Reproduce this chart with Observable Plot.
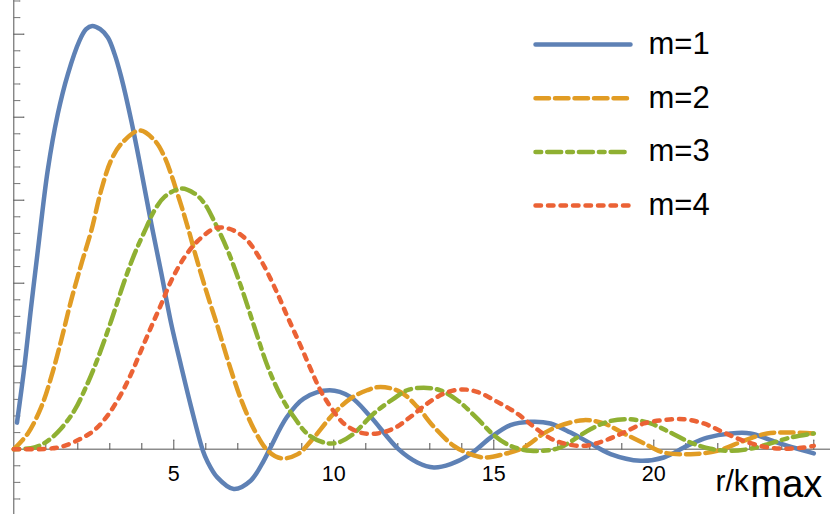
<!DOCTYPE html>
<html>
<head>
<meta charset="utf-8">
<script src="https://cdn.jsdelivr.net/npm/d3@7"></script>
<script src="https://cdn.jsdelivr.net/npm/@observablehq/plot@0.6"></script>
<style>
  html, body { margin: 0; padding: 0; background: #fff; }
  #chart { width: 830px; height: 514px; }
</style>
</head>
<body>
<div id="chart"></div>
<script>
// ---- data ----
const m1R = [0.1,0.33,0.54,0.75,1.06,1.375,1.69,2.05,2.26,2.45,2.70,2.94,3.15,3.36,3.67,3.98,4.30,4.61,4.92,5.23,5.54,5.91,6.04,6.36,6.875,7.40,7.81,8.02,8.54,9.06,9.87,10.52,11.15,12.02,12.61,13.125,13.65,14.27,14.90,15.52,16.15,16.77,17.40,18.02,18.65,19.58,20.31,21.04,21.67,22.40,23.02,23.86,25.0];
const m1V = [0.032,0.099,0.171,0.239,0.336,0.404,0.452,0.492,0.506,0.510,0.506,0.496,0.476,0.448,0.396,0.336,0.271,0.212,0.151,0.100,0.051,-0.002,-0.014,-0.034,-0.048,-0.038,-0.014,0.002,0.039,0.061,0.071,0.063,0.039,0.000,-0.016,-0.022,-0.018,-0.006,0.014,0.029,0.033,0.031,0.020,0.007,-0.006,-0.014,-0.010,0.004,0.014,0.019,0.019,0.008,-0.005];

const m2R = [0,0.44,0.86,1.17,1.48,1.79,2.11,2.42,2.73,3.04,3.36,3.93,4.40,4.71,5.18,5.44,5.70,6.01,6.375,6.69,7.11,7.52,7.94,8.35,8.875,9.29,10.0,10.52,11.04,11.46,12.08,12.61,13.125,13.75,14.27,14.69,15.31,15.94,16.56,16.98,17.81,18.44,19.06,19.69,20.31,21.15,21.98,22.81,23.54,24.27,25.0];
const m2V = [0,0.019,0.051,0.087,0.131,0.179,0.223,0.263,0.312,0.348,0.368,0.384,0.372,0.352,0.300,0.267,0.231,0.191,0.147,0.107,0.059,0.023,-0.002,-0.011,-0.006,0.010,0.043,0.061,0.071,0.075,0.069,0.051,0.027,0.004,-0.006,-0.010,-0.006,0.002,0.019,0.027,0.035,0.031,0.019,0.007,-0.004,-0.006,-0.002,0.010,0.019,0.020,0.019];

const m3R = [0,0.65,1.06,1.48,1.90,2.21,2.52,2.83,3.15,3.46,3.77,4.14,4.40,4.71,5.23,5.65,5.96,6.27,6.69,7.11,7.52,7.94,8.36,8.75,9.19,9.69,10.0,10.21,10.6,11.25,11.875,12.29,12.81,13.33,13.86,14.48,15.0,15.52,16.15,16.77,17.08,17.4,18.02,18.65,19.27,19.9,20.52,21.15,21.77,22.4,23.02,23.65,24.27,25.0];
const m3V = [0,0.002,0.010,0.025,0.047,0.071,0.099,0.131,0.167,0.203,0.235,0.267,0.288,0.304,0.314,0.308,0.296,0.274,0.239,0.195,0.147,0.099,0.063,0.039,0.018,0.008,0.007,0.009,0.018,0.043,0.061,0.071,0.074,0.071,0.059,0.037,0.017,0.004,-0.002,-0.001,0.002,0.009,0.024,0.034,0.036,0.031,0.020,0.008,0.0005,-0.002,0.0005,0.007,0.014,0.019];

const m4R = [0,1.06,1.58,2.11,2.52,2.94,3.36,3.67,3.98,4.29,4.61,4.92,5.33,5.75,6.27,6.53,6.90,7.31,7.73,8.15,8.56,8.98,9.34,9.58,9.90,10.31,10.83,11.36,11.875,12.40,12.92,13.44,13.96,14.48,15.11,15.73,16.25,16.77,17.19,17.81,18.44,19.06,19.69,20.31,20.94,21.56,22.19,22.81,23.44,24.06,24.69,25.0];
const m4V = [0,0.0005,0.004,0.013,0.023,0.041,0.067,0.091,0.119,0.147,0.175,0.203,0.231,0.251,0.266,0.267,0.263,0.251,0.227,0.195,0.159,0.123,0.091,0.071,0.051,0.031,0.020,0.019,0.025,0.039,0.055,0.067,0.072,0.069,0.057,0.043,0.027,0.013,0.007,0.004,0.010,0.020,0.031,0.035,0.036,0.031,0.020,0.010,0.003,0.0005,0.002,0.004];

const seriesLabels = ["m=1", "m=2", "m=3", "m=4"];
const xTickLabels = [5, 10, 15, 20];
const xMajorTicks = [5, 10, 15, 20, 25];
const xMinorTicks = d3.range(1, 26).filter(d => d % 5 !== 0);
const yMajorTicks = [0.1, 0.2, 0.3, 0.4, 0.5];
const yMinorTicks = d3.range(-3, 28).map(d => +(d * 0.02).toFixed(2)).filter(d => d !== 0 && Math.abs(d * 10 - Math.round(d * 10)) > 1e-9);
const axisLabelMain = "r/k";
const axisLabelSub = "max";

// ---- styles ----
const colors = ["#5E81B5", "#E19C24", "#8FB032", "#EB6235"];
const dashes = [null, "13.5 6", "5.7 6 14 6", "5.5 7"];
const font = "'Liberation Sans', Arial, Helvetica, sans-serif";
const mL = 13.3, mR = 16.7;
const curveWidth = 4.5;

const seriesData = [[m1R, m1V], [m2R, m2V], [m3R, m3V], [m4R, m4V]].map(([R, V], i) =>
  R.map((r, j) => ({r, v: V[j], m: seriesLabels[i]})));

const marks = [];
// axes lines
marks.push(Plot.ruleX([0], {stroke: "#555", strokeWidth: 1}));
marks.push(Plot.ruleY([0], {stroke: "#555", strokeWidth: 1, insetRight: -mR}));
// y ticks
marks.push(Plot.vector(yMinorTicks, {x: () => 0, y: d => d, length: 6, rotate: 90, anchor: "start", r: 0, stroke: "#777", strokeWidth: 1}));
marks.push(Plot.vector(yMajorTicks, {x: () => 0, y: d => d, length: 10, rotate: 90, anchor: "start", r: 0, stroke: "#555", strokeWidth: 1}));
// x ticks
marks.push(Plot.vector(xMinorTicks, {x: d => d, y: () => 0, length: 5.5, rotate: 0, anchor: "start", r: 0, stroke: "#555", strokeWidth: 1}));
marks.push(Plot.vector(xMajorTicks, {x: d => d, y: () => 0, length: 9, rotate: 0, anchor: "start", r: 0, stroke: "#555", strokeWidth: 1}));
// x tick labels
marks.push(Plot.text(xTickLabels, {x: d => d, y: () => 0, text: d => String(d), dy: 31.8, lineAnchor: "bottom", textAnchor: "middle", fontSize: 21.5, fontFamily: font, fill: "#000"}));

// curves
seriesData.forEach((data, i) => {
  marks.push(Plot.line(data, {x: "r", y: "v", stroke: colors[i], strokeWidth: curveWidth, strokeDasharray: dashes[i], curve: "catmull-rom", strokeLinejoin: "round"}));
});

// legend
seriesLabels.forEach((lab, i) => {
  marks.push(Plot.vector([lab], {frameAnchor: "top-left", dx: 535 - mL, dy: 44 + i * 53.7, length: 95, rotate: 90, anchor: "start", r: 0, stroke: colors[i], strokeWidth: 4.5, strokeDasharray: dashes[i]}));
  marks.push(Plot.text([lab], {frameAnchor: "top-left", dx: 648 - mL, dy: 53.5 + i * 53.6, text: d => d, textAnchor: "start", lineAnchor: "bottom", fontSize: 31, fontFamily: font, fill: "#000"}));
});

// axis label r/k_max
marks.push(Plot.text([axisLabelMain], {frameAnchor: "top-left", dx: 715 - mL, dy: 490, text: d => d, textAnchor: "start", lineAnchor: "bottom", fontSize: 30, fontFamily: font, fill: "#000"}));
marks.push(Plot.text([axisLabelSub], {frameAnchor: "top-left", dx: 750 - mL, dy: 496.7, text: d => d, textAnchor: "start", lineAnchor: "bottom", fontSize: 38, fontFamily: font, fill: "#000"}));

const chart = Plot.plot({
  width: 830,
  height: 514,
  marginLeft: mL,
  marginRight: mR,
  marginTop: 0,
  marginBottom: 0,
  x: {domain: [0, 25], axis: null},
  y: {domain: [-0.0787, 0.5406], axis: null},
  style: {background: "#fff", fontFamily: font, overflow: "visible"},
  marks
});
document.getElementById("chart").appendChild(chart);
</script>
</body>
</html>
